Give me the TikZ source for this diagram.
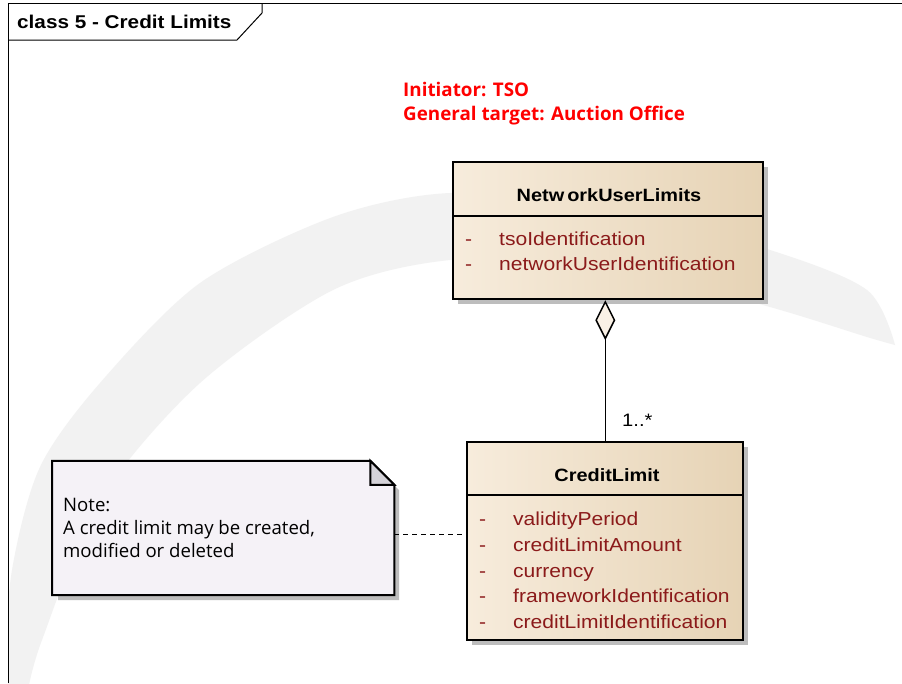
\documentclass[tikz,border=0pt]{standalone}
\usepackage{fontspec}
\setmainfont{Liberation Sans}
\newfontfamily\arialfont[FakeStretch=1.12]{Liberation Sans}
\newfontfamily\segoe{Open Sans}
\usetikzlibrary{shadows,arrows.meta}
\definecolor{attr}{HTML}{8B1A1A}
\definecolor{boxl}{HTML}{F7ECDC}
\definecolor{boxm}{HTML}{FAF1E6}
\definecolor{boxr}{HTML}{E6D3B5}
\definecolor{notefill}{HTML}{F5F2F7}
\definecolor{foldfill}{HTML}{D4D2D8}
\definecolor{redtxt}{HTML}{FF0000}
\definecolor{wmark}{HTML}{F2F2F2}
\definecolor{shadowc}{HTML}{BDBDBD}
\begin{document}
\begin{tikzpicture}[x=1pt,y=-1pt,
  classbox/.style={draw=black, line width=2pt, rectangle, inner sep=0pt,
    left color=boxl, middle color=boxm, right color=boxr,
    drop shadow={shadow xshift=5pt, shadow yshift=-5pt, opacity=1, fill=shadowc}},
  attrtext/.style={anchor=base west, inner sep=0pt, text=attr, font=\arialfont\fontsize{18.8}{21}\selectfont},
  classtitle/.style={anchor=base, inner sep=0pt, font=\arialfont\bfseries\fontsize{17.8}{20}\selectfont},
  notetext/.style={anchor=base west, inner sep=0pt, font=\segoe\fontsize{18.6}{21}\selectfont},
  redline/.style={anchor=base west, inner sep=0pt, text=redtxt, font=\segoe\bfseries\fontsize{18.8}{21}\selectfont}]
\useasboundingbox (0,0) rectangle (902,683);
\fill[white] (0,0) rectangle (902,683);
% watermark
\begin{scope}
  \clip (8,3) rectangle (902,683);
  \fill[wmark] plot[smooth] coordinates {(895,345) (867,290) (770,250) (600,205) (450,193) (333,217) (200,283) (100,383) (40,467) (12,570) (2,690)}
    -- plot[smooth] coordinates {(28,690) (42,640) (100,500) (200,383) (333,290) (450,260) (600,262) (770,307) (867,337) (895,345)} -- cycle;
\end{scope}
% frame
\draw[line width=1pt] (8,683) -- (8,3) -- (902,3);
\draw[line width=1pt] (8,40) -- (237,40) -- (262,13) -- (262,3);
\node[anchor=base west, inner sep=0pt, font=\arialfont\bfseries\fontsize{18.5}{20}\selectfont] (frametitle) at (17,28) {class 5 - Credit Limits};
% red header
\node[redline] (init) at (403,96) {Initiator: TSO};
\node[redline] (target) at (403,120) {General target: Auction Office};
% NetworkUserLimits
\node[classbox, minimum width=310pt, minimum height=137pt] (nul) at (608.3,230.7) {};
\draw[line width=2pt] (nul.west |- 0,215.7) -- (nul.east |- 0,215.7);
\node[classtitle] (nult) at (609,201.5) {Netw\,orkUserLimits};
\node[attrtext] (n1d) at (465,245) {-};
\node[attrtext] (n1) at (499,245) {tsoIdentification};
\node[attrtext] (n2d) at (465,270.5) {-};
\node[attrtext] (n2) at (499,270.5) {networkUserIdentification};
% CreditLimit
\node[classbox, minimum width=276pt, minimum height=198.5pt] (cl) at (605.3,540.8) {};
\draw[line width=2pt] (cl.west |- 0,495) -- (cl.east |- 0,495);
\node[classtitle] (clt) at (607,481.5) {CreditLimit};
\node[attrtext] (c1d) at (479,525.5) {-};
\node[attrtext] (c1) at (513,525.5) {validityPeriod};
\node[attrtext] (c2d) at (479,551.2) {-};
\node[attrtext] (c2) at (513,551.2) {creditLimitAmount};
\node[attrtext] (c3d) at (479,577) {-};
\node[attrtext] (c3) at (513,577) {currency};
\node[attrtext] (c4d) at (479,602.7) {-};
\node[attrtext] (c4) at (513,602.7) {frameworkIdentification};
\node[attrtext] (c5d) at (479,628.5) {-};
\node[attrtext] (c5) at (513,628.5) {creditLimitIdentification};
% aggregation
\draw[line width=1.5pt, {Diamond[length=40pt, width=20pt, fill=boxm, line width=1.5pt]}-]
  (cl.north |- nul.south) -- (cl.north);
\node[anchor=base west, inner sep=0pt, font=\arialfont\fontsize{18}{20}\selectfont] (mult) at (622,426.5) {1..*};
% note
\node[minimum width=341.7pt, minimum height=134pt, inner sep=0pt] (note) at (223.2,528) {};
\fill[shadowc] (58,600) -- (399,600) -- (399,490) -- (394,485) -- (394,595) -- (58,595) -- cycle;
\filldraw[fill=notefill, draw=black, line width=2pt]
  (note.north west) -- ([xshift=-24pt]note.north east) -- ([yshift=-24pt]note.north east) -- (note.south east) -- (note.south west) -- cycle;
\filldraw[fill=foldfill, draw=black, line width=2pt]
  ([xshift=-24pt]note.north east) -- ([xshift=-24pt,yshift=-24pt]note.north east) -- ([yshift=-24pt]note.north east) -- cycle;
\node[notetext] (nt1) at (63,511.5) {Note:};
\node[notetext] (nt2) at (63,534.5) {A credit limit may be created,};
\node[notetext] (nt3) at (63,557.5) {modified or deleted};
\coordinate (nj) at (0,534.3);
\draw[line width=1.5pt, dash pattern=on 5pt off 4pt] (note.east |- nj) -- (cl.west |- nj);
\end{tikzpicture}
\end{document}
